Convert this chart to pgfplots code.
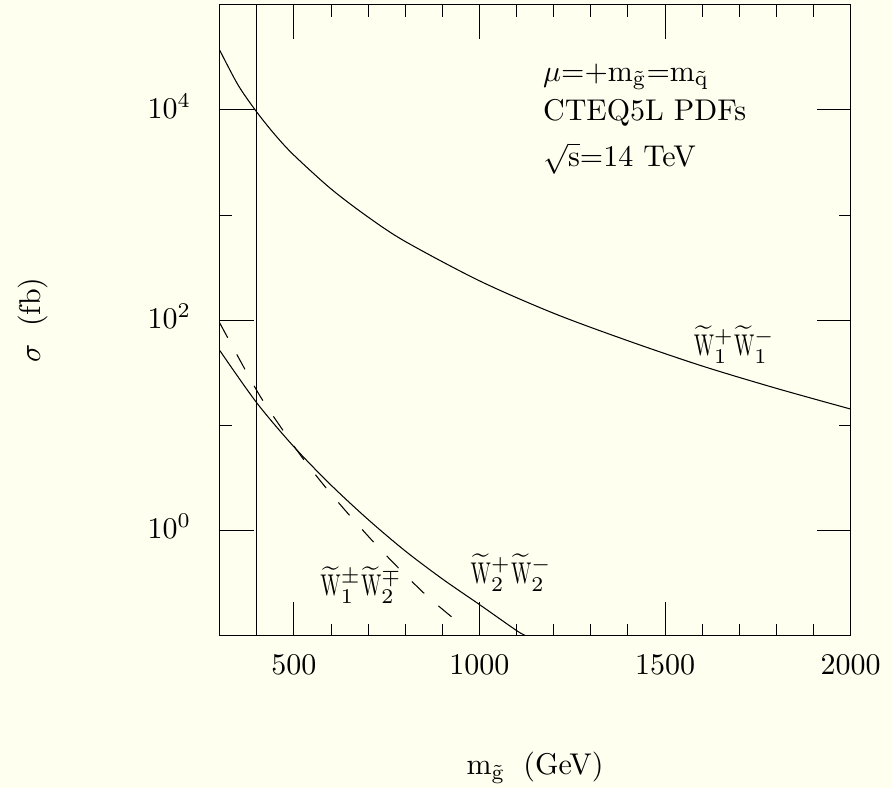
\documentclass[border=0pt]{standalone}
\usepackage{graphicx}
\usepackage{pgfplots}
\pgfplotsset{compat=1.18}
\definecolor{bg}{RGB}{255,255,240}
\newcommand{\Wt}{\mathord{\smash{\widetilde{\mbox{\scalebox{0.66}[1]{W}}}}\vphantom{\mathrm W}}}
\begin{document}
\begin{tikzpicture}
\fill[bg] (-73.2pt,-50.77pt) rectangle (224.13pt,211.9pt);
\begin{axis}[
  at={(0pt,0pt)}, anchor=south west,
  scale only axis, width=210.33pt, height=210.33pt,
  xmin=300, xmax=2000, ymode=log, ymin=0.1, ymax=1e5,
  xtick={500,1000,1500,2000},
  minor xtick={400,600,700,800,900,1100,1200,1300,1400,1600,1700,1800,1900},
  ytick={1,100,10000}, minor ytick={10,1000},
  tick align=inside,
  major tick length=11.33pt, minor tick length=4pt,
  every tick/.style={black, line width=0.27pt},
  axis line style={line width=0.35pt},
  /pgf/number format/1000 sep={},
  tick label style={inner sep=0pt},
  xticklabel style={yshift=-6.33pt},
  yticklabel style={xshift=-9.33pt, yshift=1.33pt},
  xlabel={m$_{\tilde{\mathrm g}}$\hspace{0.6em}(GeV)},
  ylabel={$\sigma$\hspace{0.6em}(fb)},
  xlabel style={at={(axis description cs:0.5,-0.2203)}, anchor=base, inner sep=0pt},
  ylabel style={at={(axis description cs:-0.2964,0.5)}, anchor=center, inner sep=0pt},
]
% W1+ W1-
\addplot[black, line width=0.35pt, smooth] coordinates {(300,37150) (350,17180) (400,9550) (450,5754) (500,3715) (600,1774) (700,957) (800,561) (1000,237) (1200,116.4) (1400,63.8) (1600,36.7) (1800,22.5) (2000,14.3)};
% W2+ W2-
\addplot[black, line width=0.35pt, smooth] coordinates {(300,51.8) (400,16.4) (500,6.27) (600,2.71) (700,1.274) (800,0.640) (900,0.347) (1000,0.198) (1100,0.112) (1125,0.1)};
% W1+- W2-+
\addplot[black, line width=0.35pt, smooth, dash pattern=on 5.67pt off 6.33pt] coordinates {(300,94.6) (360,38.6) (409,19.0) (463.5,9.77) (523,4.92) (585,2.59) (650.5,1.39) (718.6,0.752) (788,0.419) (859.6,0.237) (934,0.142) (952,0.124)};
\addplot[black, line width=0.35pt] coordinates {(400,0.1) (400,100000)};
\node[anchor=base west, inner sep=0pt] at (axis cs:1170,18700) {$\mu$=+m$_{\tilde{\mathrm g}}$=m$_{\tilde{\mathrm q}}$};
\node[anchor=base west, inner sep=0pt] at (axis cs:1170,7910) {CTEQ5L PDFs};
\node[anchor=base west, inner sep=0pt] at (axis cs:1170,2884) {$\sqrt{\mathrm s}$=14 TeV};
\node[anchor=base west, inner sep=0pt] at (axis cs:1576,46.4) {$\Wt^+_1\Wt^-_1$};
\node[anchor=base west, inner sep=0pt] at (axis cs:975,0.315) {$\Wt^+_2\Wt^-_2$};
\node[anchor=base west, inner sep=0pt] at (axis cs:570,0.24) {$\Wt^\pm_1\Wt^\mp_2$};
\end{axis}
\pgfresetboundingbox
\path[use as bounding box] (-73.2pt,-50.77pt) rectangle (224.13pt,211.9pt);
\end{tikzpicture}
\end{document}
